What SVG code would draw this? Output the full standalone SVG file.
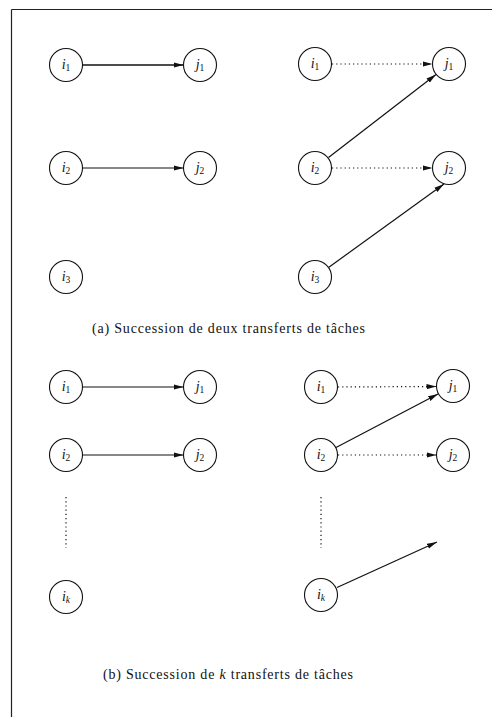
<svg xmlns="http://www.w3.org/2000/svg" width="492" height="717" viewBox="0 0 492 717">
<style>
.node circle{fill:#fff;stroke:#111;stroke-width:1.1}
.lbl{font-family:"Liberation Serif","Times New Roman",serif;font-size:14px;fill:#111;text-anchor:middle}
.lbl .v{font-style:italic}
.lbl .s{font-size:9.5px}
.cap{font-family:"Liberation Serif","Times New Roman",serif;font-size:14px;fill:#111}
.solid{stroke:#111;stroke-width:1.2;fill:none}
.dot{stroke:#111;stroke-width:1.2;fill:none;stroke-dasharray:1.2 3}
.arr{marker-end:url(#ah)}
</style>
<defs>
<marker id="ah" markerUnits="userSpaceOnUse" markerWidth="12" markerHeight="8" refX="10" refY="3" orient="auto">
<path d="M0,0.4 L10,3 L0,5.6 Z" fill="#111"/>
</marker>
</defs>
<rect width="492" height="717" fill="#fff"/>
<g id="frame" stroke="#222" stroke-width="1.2" fill="none">
<line x1="11.5" y1="9.5" x2="492" y2="9.5"/>
<line x1="11.5" y1="9.5" x2="11.5" y2="717"/>
</g>
<g id="connectors">
<line class="solid arr" x1="83" y1="65" x2="183.5" y2="65" style="stroke-width:1.5"/>
<line class="solid arr" x1="83" y1="168" x2="183.5" y2="168"/>
<line class="dot arr" x1="332" y1="64" x2="432.5" y2="64"/>
<line class="dot arr" x1="332" y1="168" x2="432.5" y2="168"/>
<line class="solid arr" x1="328.5" y1="157.5" x2="436" y2="74.5"/>
<line class="solid arr" x1="328.5" y1="267.5" x2="444" y2="184"/>
<line class="solid arr" x1="83" y1="387" x2="183.5" y2="387"/>
<line class="solid arr" x1="83" y1="455" x2="183.5" y2="455"/>
<line class="dot" x1="66" y1="497" x2="66" y2="548"/>
<line class="dot arr" x1="338" y1="387" x2="436.5" y2="386.5"/>
<line class="dot arr" x1="338" y1="455" x2="436.5" y2="455"/>
<line class="solid arr" x1="336" y1="447.5" x2="438" y2="394"/>
<line class="dot" x1="321" y1="497" x2="321" y2="548"/>
<line class="solid arr" x1="337" y1="587.5" x2="437" y2="542"/>
</g>
<g id="a_L_i1" class="node"><circle cx="66" cy="65" r="16.5"/><text class="lbl" x="66" y="69"><tspan class="v">i</tspan><tspan class="s" dy="2">1</tspan></text></g>
<g id="a_L_j1" class="node"><circle cx="200" cy="65" r="16.5"/><text class="lbl" x="200" y="69"><tspan class="v">j</tspan><tspan class="s" dy="2">1</tspan></text></g>
<g id="a_L_i2" class="node"><circle cx="66" cy="168" r="16.5"/><text class="lbl" x="66" y="172"><tspan class="v">i</tspan><tspan class="s" dy="2">2</tspan></text></g>
<g id="a_L_j2" class="node"><circle cx="200" cy="168" r="16.5"/><text class="lbl" x="200" y="172"><tspan class="v">j</tspan><tspan class="s" dy="2">2</tspan></text></g>
<g id="a_L_i3" class="node"><circle cx="66" cy="277" r="16.5"/><text class="lbl" x="66" y="281"><tspan class="v">i</tspan><tspan class="s" dy="2">3</tspan></text></g>
<g id="a_R_i1" class="node"><circle cx="315" cy="64" r="16.5"/><text class="lbl" x="315" y="68"><tspan class="v">i</tspan><tspan class="s" dy="2">1</tspan></text></g>
<g id="a_R_j1" class="node"><circle cx="449" cy="64" r="16.5"/><text class="lbl" x="449" y="68"><tspan class="v">j</tspan><tspan class="s" dy="2">1</tspan></text></g>
<g id="a_R_i2" class="node"><circle cx="315" cy="168" r="16.5"/><text class="lbl" x="315" y="172"><tspan class="v">i</tspan><tspan class="s" dy="2">2</tspan></text></g>
<g id="a_R_j2" class="node"><circle cx="449" cy="168" r="16.5"/><text class="lbl" x="449" y="172"><tspan class="v">j</tspan><tspan class="s" dy="2">2</tspan></text></g>
<g id="a_R_i3" class="node"><circle cx="315" cy="277" r="16.5"/><text class="lbl" x="315" y="281"><tspan class="v">i</tspan><tspan class="s" dy="2">3</tspan></text></g>
<text class="cap" x="92" y="333" textLength="273" lengthAdjust="spacing">(a) Succession de deux transferts de tâches</text>
<g id="b_L_i1" class="node"><circle cx="66" cy="387" r="16.5"/><text class="lbl" x="66" y="391"><tspan class="v">i</tspan><tspan class="s" dy="2">1</tspan></text></g>
<g id="b_L_j1" class="node"><circle cx="200" cy="387" r="16.5"/><text class="lbl" x="200" y="391"><tspan class="v">j</tspan><tspan class="s" dy="2">1</tspan></text></g>
<g id="b_L_i2" class="node"><circle cx="66" cy="455" r="16.5"/><text class="lbl" x="66" y="459"><tspan class="v">i</tspan><tspan class="s" dy="2">2</tspan></text></g>
<g id="b_L_j2" class="node"><circle cx="200" cy="455" r="16.5"/><text class="lbl" x="200" y="459"><tspan class="v">j</tspan><tspan class="s" dy="2">2</tspan></text></g>
<g id="b_L_ik" class="node"><circle cx="66" cy="597" r="16.5"/><text class="lbl" x="66" y="601"><tspan class="v">i</tspan><tspan class="s v" dy="2">k</tspan></text></g>
<g id="b_R_i1" class="node"><circle cx="321" cy="387" r="16.5"/><text class="lbl" x="321" y="391"><tspan class="v">i</tspan><tspan class="s" dy="2">1</tspan></text></g>
<g id="b_R_j1" class="node"><circle cx="453" cy="386" r="16.5"/><text class="lbl" x="453" y="390"><tspan class="v">j</tspan><tspan class="s" dy="2">1</tspan></text></g>
<g id="b_R_i2" class="node"><circle cx="321" cy="455" r="16.5"/><text class="lbl" x="321" y="459"><tspan class="v">i</tspan><tspan class="s" dy="2">2</tspan></text></g>
<g id="b_R_j2" class="node"><circle cx="453" cy="455" r="16.5"/><text class="lbl" x="453" y="459"><tspan class="v">j</tspan><tspan class="s" dy="2">2</tspan></text></g>
<g id="b_R_ik" class="node"><circle cx="321" cy="595" r="16.5"/><text class="lbl" x="321" y="599"><tspan class="v">i</tspan><tspan class="s v" dy="2">k</tspan></text></g>
<text class="cap" x="103" y="679" textLength="250" lengthAdjust="spacing">(b) Succession de <tspan font-style="italic">k</tspan> transferts de tâches</text>
</svg>
